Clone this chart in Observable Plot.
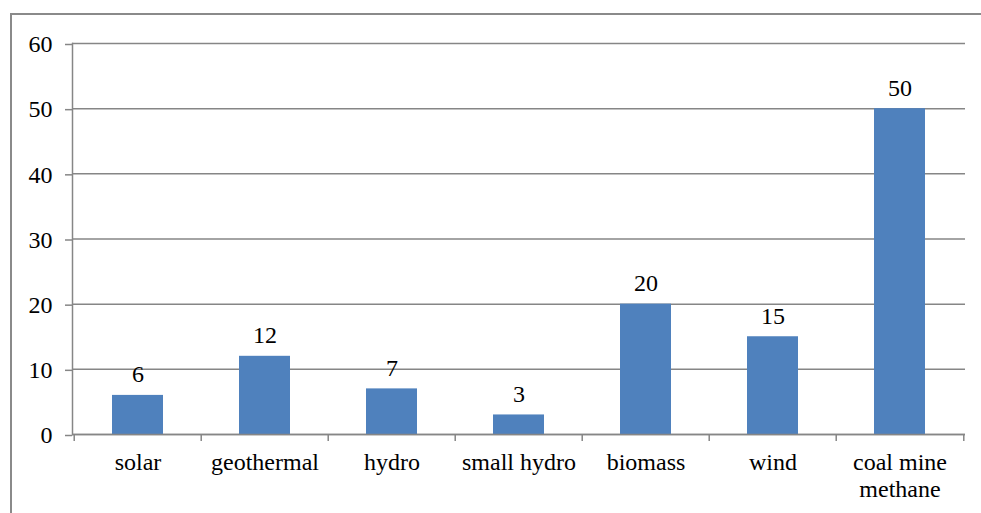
<!DOCTYPE html>
<html>
<head>
<meta charset="utf-8">
<script src="https://cdn.jsdelivr.net/npm/d3@7"></script>
<script src="https://cdn.jsdelivr.net/npm/@observablehq/plot@0.6"></script>
<style>
  html, body { margin: 0; padding: 0; background: #fff; overflow: hidden; }
  #wrap { position: relative; width: 981px; height: 513px; }
  #border { position: absolute; left: 10px; top: 13px; width: 975px; height: 520px;
            border: 2px solid #8a8a8a; box-sizing: border-box; pointer-events: none; }
  #chart { position: absolute; left: 0; top: 0; }
</style>
</head>
<body>
<div id="wrap"><div id="chart"></div><div id="border"></div></div>
<script>
const categories = ["solar", "geothermal", "hydro", "small hydro", "biomass", "wind", "coal mine\nmethane"];
const values = [6, 12, 7, 3, 20, 15, 50];
const yTicks = [0, 10, 20, 30, 40, 50, 60];

const data = categories.map((c, i) => ({category: c, value: values[i]}));

const W = 981, H = 513, mL = 72, mR = 16, mT = 43, mB = 79;
const bw = (W - mL - mR) / categories.length;
const gray = "#868686";
const font = "'Liberation Serif', 'Times New Roman', serif";
const fs = 24;

const chart = Plot.plot({
  width: W, height: H,
  marginLeft: mL, marginRight: mR, marginTop: mT, marginBottom: mB,
  style: {fontFamily: font, fontSize: fs + "px", color: "#000", background: "transparent", overflow: "visible"},
  x: {domain: categories, padding: 0},
  y: {domain: [0, 60], ticks: yTicks},
  marks: [
    Plot.gridY(yTicks, {stroke: gray, strokeOpacity: 1, strokeWidth: 1.5}),
    Plot.barY(data, {x: "category", y: "value", fill: "#4F81BD", insetLeft: 38, insetRight: 38}),
    Plot.frame({anchor: "left", stroke: gray, strokeWidth: 1.5}),
    Plot.ruleY([0], {stroke: gray, strokeWidth: 1.5}),
    Plot.ruleX(categories, {x: d => d, y1: 0, y2: 0, insetBottom: -7, dx: -bw / 2, stroke: gray, strokeWidth: 1.5}),
    Plot.ruleX(categories.slice(-1), {x: d => d, y1: 0, y2: 0, insetBottom: -7, dx: bw / 2, stroke: gray, strokeWidth: 1.5}),
    Plot.axisY({ticks: yTicks, tickSize: 7, tickPadding: 13, stroke: gray, strokeWidth: 1.5, fill: "#000", fontSize: fs, label: null, dy: 1}),
    Plot.axisX({tickSize: 0, tickPadding: 16, lineHeight: 1.125, fill: "#000", fontSize: fs, label: null}),
    Plot.text(data, {x: "category", y: "value", text: d => String(d.value), lineAnchor: "bottom", dy: -13, fill: "#000", fontSize: fs})
  ]
});
document.getElementById("chart").appendChild(chart);
</script>
</body>
</html>
